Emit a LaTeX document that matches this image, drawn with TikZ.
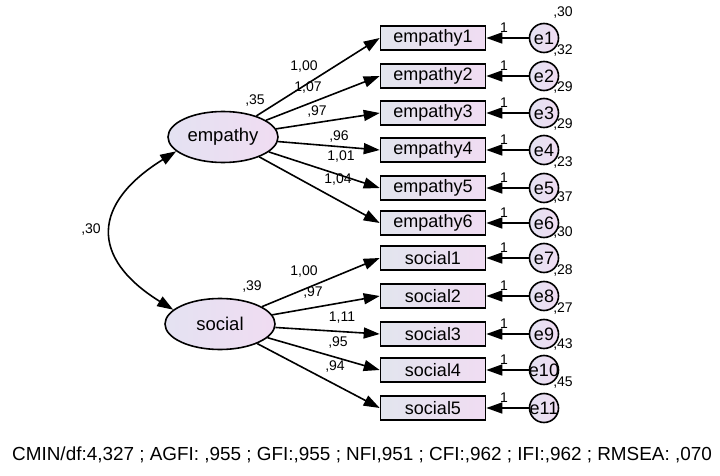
\documentclass[tikz,border=0pt]{standalone}
\usepackage{fontspec}
\setmainfont{Liberation Sans}
\usepackage{tikz}
\usetikzlibrary{arrows.meta,shapes.geometric}
\definecolor{cboxl}{HTML}{E2E5EE}
\definecolor{cboxr}{HTML}{F0DCF2}
\definecolor{clatl}{HTML}{E4E2F2}
\definecolor{clatr}{HTML}{F0DCF2}

\begin{document}
\begin{tikzpicture}[x=1pt,y=-1pt,>={Triangle[length=16pt,width=11pt]},line width=1.6pt,
  obs/.style={draw,rectangle,minimum width=105pt,minimum height=24pt,inner sep=0pt,
    left color=cboxl,right color=cboxr,font=\fontsize{18}{18}\selectfont},
  lat/.style={draw,ellipse,minimum width=110pt,minimum height=51pt,inner sep=0pt,
    left color=clatl,right color=clatr,font=\fontsize{18.5}{18.5}\selectfont},
  err/.style={draw,circle,minimum size=29pt,inner sep=0pt,
    left color=clatl,right color=clatr,font=\fontsize{18}{18}\selectfont},
  est/.style={inner sep=0pt,font=\fontsize{14}{14}\selectfont}]
  \useasboundingbox (0,0) rectangle (720,476);
  % latent variables
  \node[lat] (empathy) at (223,137) {empathy};
  \node[lat] (social) at (220,324) {social};
  % indicators and their errors
  \foreach \n/\lab/\y/\v in {1/empathy1/38/30,2/empathy2/76/32,3/empathy3/113/29,
      4/empathy4/150/29,5/empathy5/188/23,6/empathy6/223/37,7/social1/258/30,
      8/social2/296/28,9/social3/334/27,10/social4/370/43,11/social5/408/45} {
    \node[obs] (v\n) at (433,\y) {\lab};
    \node[err] (e\n) at (544,\y) {\makebox[0pt]{e\n}};
    \draw[->] (e\n) -- (v\n);
    \node[est] (w\n) at (504,{\y-10}) {1};
    \node[est] (s\n) at (563,{\y-25}) {,\v};
  }
  \foreach \n in {1,...,6} \draw[->] (empathy) -- (v\n.west);
  \foreach \n in {7,...,11} \draw[->] (social) -- (v\n.west);
  % covariance
  \draw[<->] (empathy.197) .. controls +(-84,52) and +(-84,-52) .. (social.163);
  \node[est] (cov) at (91,230) {,30};
  % estimates
  \node[est] (ve) at (255,101) {,35};
  \node[est] (l1) at (304,67) {1,00};
  \node[est] (l2) at (308,88) {1,07};
  \node[est] (l3) at (317,112) {,97};
  \node[est] (l4) at (339,137) {,96};
  \node[est] (l5) at (341,157) {1,01};
  \node[est] (l6) at (338,180) {1,04};
  \node[est] (vs) at (252,287) {,39};
  \node[est] (l7) at (304,272) {1,00};
  \node[est] (l8) at (313,293) {,97};
  \node[est] (l9) at (342,318) {1,11};
  \node[est] (l10) at (338,343) {,95};
  \node[est] (l11) at (335,367) {,94};
  % fit indices
  \node[inner sep=0pt,font=\fontsize{18.9}{18.9}\selectfont] (fit) at (362,455)
    {CMIN/df:4,327 ; AGFI: ,955 ; GFI:,955 ; NFI,951 ; CFI:,962 ; IFI:,962 ; RMSEA: ,070};
\end{tikzpicture}
\end{document}
